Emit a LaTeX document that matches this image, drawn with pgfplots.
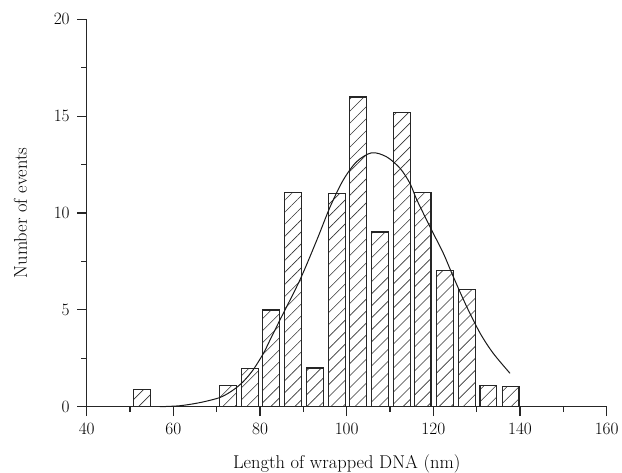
\documentclass[border=0pt]{standalone}
\usepackage{pgfplots}
\pgfplotsset{compat=1.18}
\usetikzlibrary{patterns.meta}
\begin{document}
\begin{tikzpicture}
\useasboundingbox (-86.7pt,-66.3pt) rectangle (535.3pt,406.7pt);
\begin{axis}[
  at={(0,0)}, anchor=south west,
  scale only axis, width=520pt, height=387.4pt,
  xmin=40, xmax=160, ymin=0, ymax=20,
  axis lines*=left,
  axis line style={black!85, line width=1.1pt},
  tick style={black!85, line width=1.1pt},
  tick align=outside,
  major tick length=9.5pt, minor tick length=5.5pt,
  xtick={40,60,...,160}, minor xtick={50,70,...,150},
  ytick={0,5,...,20}, minor ytick={2.5,7.5,...,17.5},
  tick label style={font=\fontsize{18.5}{22}\selectfont, black},
  yticklabel style={xshift=-4pt},
  xticklabel style={yshift=-4pt},
  xlabel={Length of wrapped DNA (nm)},
  ylabel={Number of events},
  every axis y label/.style={at={(axis description cs:-0.1275,0.5)}, rotate=90, anchor=center, font=\fontsize{18.5}{22}\selectfont, black},
  every axis x label/.style={at={(axis description cs:0.5,0)}, anchor=north, yshift=-44pt, font=\fontsize{18.5}{22}\selectfont, black},
  clip=false,
]
\addplot[ybar, bar width=3.9, draw=black!85, line width=1.1pt,
  pattern={Lines[angle=45, distance=8.5pt, line width=0.6pt]}, pattern color=black!80]
  coordinates {
  (52.85,0.91) (72.55,1.08) (77.7,1.96) (82.6,4.99) (87.6,11.07)
  (92.65,2.0) (97.8,11.0) (102.6,15.99) (107.7,9.02) (112.7,15.2)
  (117.5,11.05) (122.6,7.02) (127.7,6.05) (132.7,1.1) (137.8,1.03)
  };
\addplot[smooth, black!90, line width=1pt] coordinates {
  (56.9,0) (61.5,0.05) (66.1,0.21) (70.8,0.48) (73.8,0.86) (76.1,1.29)
  (78.4,1.9) (80.8,2.76) (82.3,3.44) (84.6,4.48) (89.2,6.54) (93.1,8.6)
  (96.2,10.33) (99.2,11.7) (102.3,12.65) (105.8,13.11) (109.2,12.9)
  (112.3,12.31) (114.6,11.53) (116.2,10.67) (119.6,9.12) (122.3,7.92)
  (124.6,6.71) (127.7,5.16) (130.8,3.79) (133.8,2.76) (137.7,1.72)
  };
\end{axis}
\end{tikzpicture}
\end{document}
